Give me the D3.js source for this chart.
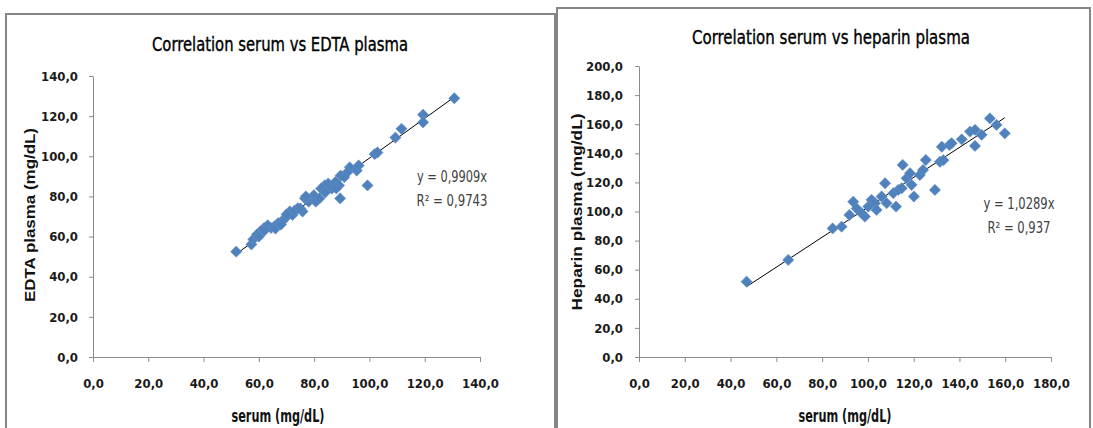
<!DOCTYPE html>
<html>
<head>
<meta charset="utf-8">
<script src="https://cdn.jsdelivr.net/npm/d3@7"></script>
<style>
  body { margin: 0; background: #fff; }
  svg { display: block; }
  .tick text { font-family: "Liberation Sans Narrow", "DejaVu Sans Condensed", sans-serif; font-size: 13px; font-weight: bold; fill: #1a1a1a; }
  .tick line, .domain { stroke: #8c8c8c; }
</style>
</head>
<body>
<svg id="chart" width="1093" height="428"></svg>
<script>
// serum vs EDTA plasma (mg/dL)
const edtaSerum  = [51.8, 57.3, 58.0, 59.3, 60.6, 61.9, 63.2, 64.4, 65.7, 67.0, 68.3, 69.6, 71.2, 72.2,
                    74.1, 75.8, 76.7, 78.0, 79.9, 80.6, 81.9, 82.5, 83.8, 85.1, 86.4, 87.7, 89.0, 89.6,
                    89.4, 90.9, 92.9, 95.4, 96.1, 99.3, 101.9, 102.9, 109.4, 111.6, 119.4, 119.4, 130.7,
                    60.0, 62.0, 66.0, 68.0, 70.0, 73.0, 75.0, 77.0, 84.0, 88.0, 92.0];
const edtaPlasma = [52.5, 56.1, 58.6, 61.0, 62.6, 64.3, 65.6, 64.3, 65.1, 66.7, 67.5, 69.2, 72.5, 70.8,
                    74.1, 72.5, 79.0, 77.4, 80.6, 77.4, 79.0, 83.9, 85.5, 86.4, 83.9, 87.2, 85.5, 90.4,
                    79.0, 89.6, 94.5, 92.9, 95.4, 85.5, 101.1, 101.9, 109.3, 113.7, 120.7, 116.9, 128.9,
                    60.0, 63.0, 64.0, 66.0, 71.0, 73.0, 74.0, 80.0, 82.0, 84.0, 92.0];

// serum vs heparin plasma (mg/dL)
const hepSerum  = [47.0, 65.2, 84.6, 88.5, 91.9, 93.6, 95.1, 97.3, 98.7, 100.2, 101.6, 103.1, 103.8, 106.0,
                   107.5, 108.2, 111.1, 112.3, 113.3, 114.8, 115.2, 116.9, 118.4, 119.1, 120.1, 122.7,
                   124.1, 125.3, 129.3, 131.5, 132.3, 133.0, 135.6, 136.6, 141.0, 144.6, 146.8, 146.8,
                   149.7, 153.3, 156.2, 159.8];
const hepPlasma = [51.8, 66.7, 88.4, 89.6, 97.6, 106.7, 102.0, 98.8, 96.5, 103.4, 108.0, 105.7, 101.1, 110.3,
                   119.4, 105.7, 112.6, 103.4, 114.9, 116.0, 132.0, 122.8, 126.3, 118.3, 110.3, 125.1,
                   128.6, 135.4, 114.8, 134.2, 144.5, 135.3, 145.7, 146.9, 149.6, 154.9, 156.1, 145.1,
                   152.7, 164.0, 159.5, 153.7];

const edtaXTicks = [0, 20, 40, 60, 80, 100, 120, 140];
const edtaYTicks = [0, 20, 40, 60, 80, 100, 120, 140];
const hepXTicks  = [0, 20, 40, 60, 80, 100, 120, 140, 160, 180];
const hepYTicks  = [0, 20, 40, 60, 80, 100, 120, 140, 160, 180, 200];

const edtaSlope = 0.9909;
const hepSlope  = 1.0289;

const svg = d3.select("#chart");
const narrow = '"Liberation Sans Narrow", "DejaVu Sans Condensed", sans-serif';
const fmt = d => d.toFixed(1).replace(".", ",");

function drawPanel(p) {
  const g = svg.append("g");

  // chart frame
  g.append("rect")
    .attr("x", p.frame[0]).attr("y", p.frame[1])
    .attr("width", p.frame[2]).attr("height", p.frame[3])
    .attr("fill", "#fff")
    .attr("stroke", "#868686")
    .attr("stroke-width", 2);

  const x = d3.scaleLinear().domain(p.xDomain).range(p.xRange);
  const y = d3.scaleLinear().domain(p.yDomain).range(p.yRange);

  g.append("g")
    .attr("transform", `translate(0,${p.yRange[0]})`)
    .call(d3.axisBottom(x).tickValues(p.xTicks).tickFormat(fmt)
      .tickSize(5).tickSizeOuter(0).tickPadding(17));

  g.append("g")
    .attr("transform", `translate(${p.xRange[0]},0)`)
    .call(d3.axisLeft(y).tickValues(p.yTicks).tickFormat(fmt)
      .tickSize(4).tickSizeOuter(0).tickPadding(p.yPad));

  // title
  g.append("text")
    .attr("x", p.title.x).attr("y", p.title.y)
    .attr("text-anchor", "middle")
    .attr("font-family", narrow)
    .attr("font-size", 19)
    .attr("fill", "#000")
    .attr("stroke", "#000")
    .attr("stroke-width", 0.35)
    .attr("textLength", p.title.len)
    .attr("lengthAdjust", "spacingAndGlyphs")
    .text(p.title.text);

  // axis titles
  g.append("text")
    .attr("x", p.xTitle.x).attr("y", p.xTitle.y)
    .attr("text-anchor", "middle")
    .attr("font-family", narrow)
    .attr("font-size", 17)
    .attr("font-weight", "bold")
    .attr("fill", "#111")
    .attr("textLength", p.xTitle.len)
    .attr("lengthAdjust", "spacingAndGlyphs")
    .text("serum (mg/dL)");

  g.append("text")
    .attr("transform", `translate(${p.yTitle.x},${p.yTitle.y}) rotate(-90)`)
    .attr("text-anchor", "middle")
    .attr("font-family", "'Liberation Sans', Arial, sans-serif")
    .attr("font-weight", "bold")
    .attr("font-size", 14)
    .attr("fill", "#111")
    .attr("textLength", p.yTitle.len)
    .attr("lengthAdjust", "spacingAndGlyphs")
    .text(p.yTitle.text);

  // trendline through the origin
  const xs = d3.extent(p.xs);
  g.append("line")
    .attr("x1", x(xs[0])).attr("y1", y(xs[0] * p.slope))
    .attr("x2", x(xs[1])).attr("y2", y(xs[1] * p.slope))
    .attr("stroke", "#000")
    .attr("stroke-width", 1);

  // diamonds
  const diamond = d3.symbol(d3.symbolSquare, 64);
  g.append("g")
    .selectAll("path")
    .data(p.xs.map((v, i) => [v, p.ys[i]]))
    .join("path")
    .attr("d", diamond)
    .attr("transform", d => `translate(${x(d[0])},${y(d[1])}) rotate(45)`)
    .attr("fill", "#4f81bd")
    .attr("stroke", "#6b95c8")
    .attr("stroke-width", 0.5);

  // equation label
  const eq = g.append("text")
    .attr("font-family", narrow)
    .attr("font-size", 16)
    .attr("fill", "#404040")
    .attr("text-anchor", "middle");
  eq.append("tspan").attr("x", p.eq.x).attr("y", p.eq.y)
    .attr("textLength", p.eq.len1).attr("lengthAdjust", "spacingAndGlyphs").text(p.eq.l1);
  eq.append("tspan").attr("x", p.eq.x).attr("y", p.eq.y + 24)
    .attr("textLength", p.eq.len2).attr("lengthAdjust", "spacingAndGlyphs").text(p.eq.l2);
}

drawPanel({
  frame: [6, 14, 549, 430],
  xDomain: [0, 140], xRange: [93, 480],
  yDomain: [0, 140], yRange: [357, 76],
  xTicks: edtaXTicks, yTicks: edtaYTicks, yPad: 11,
  title: { text: "Correlation serum vs EDTA plasma", x: 280, y: 51, len: 256 },
  xTitle: { x: 278, y: 422, len: 93 },
  yTitle: { text: "EDTA plasma (mg/dL)", x: 35, y: 215, len: 174 },
  xs: edtaSerum, ys: edtaPlasma, slope: edtaSlope,
  eq: { x: 452, y: 182, l1: "y = 0,9909x", l2: "R² = 0,9743", len1: 70, len2: 71 }
});

drawPanel({
  frame: [557, 8, 533, 440],
  xDomain: [0, 180], xRange: [639, 1051],
  yDomain: [0, 200], yRange: [357, 66],
  xTicks: hepXTicks, yTicks: hepYTicks, yPad: 12,
  title: { text: "Correlation serum vs heparin plasma", x: 831, y: 44, len: 278 },
  xTitle: { x: 845, y: 422, len: 93 },
  yTitle: { text: "Heparin plasma (mg/dL)", x: 582, y: 212, len: 197 },
  xs: hepSerum, ys: hepPlasma, slope: hepSlope,
  eq: { x: 1019, y: 209, l1: "y = 1,0289x", l2: "R² = 0,937", len1: 71, len2: 63 }
});
</script>
</body>
</html>
